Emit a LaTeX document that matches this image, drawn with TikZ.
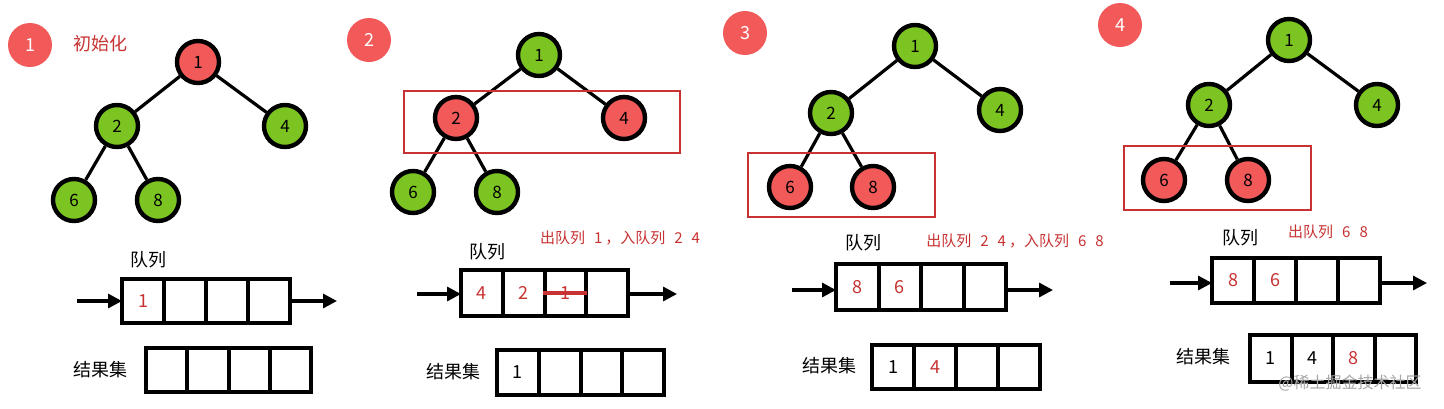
\documentclass[tikz,border=0pt]{standalone}
\usepackage{fontspec}
\setmainfont{Noto Sans CJK SC}
\usetikzlibrary{arrows.meta,calc}
\definecolor{rd}{HTML}{F25A5A}
\definecolor{rt}{HTML}{C83232}
\definecolor{gr}{HTML}{7BC422}
\tikzset{
 tn/.style={circle,draw=black,line width=2.2pt,minimum size=21pt,inner sep=0pt,font=\fontsize{8.5}{10}\selectfont},
 gn/.style={tn,fill=gr},
 rn/.style={tn,fill=rd},
 badge/.style={circle,fill=rd,minimum size=22pt,inner sep=0pt,text=white,font=\fontsize{9}{10}\selectfont},
 edge/.style={line width=1.6pt},
 cell/.style={draw=black,line width=2pt},
 lbl/.style={font=\fontsize{9}{11}\selectfont},
 rlbl/.style={font=\fontsize{7.5}{9}\selectfont,text=rt},
 qarr/.style={line width=1.6pt,-{Triangle[length=7pt,width=7pt]}},
 hl/.style={draw=rt,line width=0.8pt},
 cv/.style={font=\fontsize{9}{10}\selectfont}
}
\newcommand{\cells}[5]{%
 \foreach \i in {0,1,2,3}{%
  \pgfmathsetmacro{\xa}{#2+(#4-#2)*\i/4}\pgfmathsetmacro{\xb}{#2+(#4-#2)*(\i+1)/4}%
  \draw[cell] (\xa,#3) rectangle (\xb,#5);
  \coordinate (#1\i) at ({(\xa+\xb)/2},{(#3+#5)/2});}%
}
\newcommand{\gapsp}{\hspace{0.6em}}
\begin{document}
\begin{tikzpicture}[x=0.5pt,y=-0.5pt]
\useasboundingbox[fill=white] (0,0) rectangle (1444,408);
% Panel 1
\node[badge] (b1) at (30,45) {1};
\node[lbl,text=rt,anchor=west] (t1) at (66,44) {初始化};
\node[rn] (a1) at (198,62) {1};
\node[gn] (a2) at (117,126) {2};
\node[gn] (a4) at (285,126) {4};
\node[gn] (a6) at (74,200) {6};
\node[gn] (a8) at (158,200) {8};
\draw[edge] (a1)--(a2) (a1)--(a4) (a2)--(a6) (a2)--(a8);
\node[lbl] (q1l) at (148,260) {队列};
\cells{qa}{122}{279}{290}{323}
\coordinate (qa_in) at (77,301); \coordinate (qa_out) at (337,301);
\draw[qarr] (qa_in)--(122,301);
\draw[qarr] (290,301)--(qa_out);
\node[cv,text=rt] at (qa0) {1};
\node[lbl] (r1l) at (100,370) {结果集};
\cells{ra}{146}{348}{311}{392}
% Panel 2
\node[badge] (b2) at (369,40) {2};
\node[gn] (c1) at (539,55) {1};
\node[rn] (c2) at (456,118) {2};
\node[rn] (c4) at (624,118) {4};
\node[gn] (c6) at (413,192) {6};
\node[gn] (c8) at (497,192) {8};
\draw[edge] (c1)--(c2) (c1)--(c4) (c2)--(c6) (c2)--(c8);
\draw[hl] (404,91) rectangle (680,153);
\node[rlbl] (t2) at (620,238) {出队列\gapsp 1\hspace{0.2em}，入队列\gapsp 2\gapsp 4};
\node[lbl] (q2l) at (487,252) {队列};
\cells{qb}{461}{270}{628}{316}
\coordinate (qb_in) at (417,294); \coordinate (qb_out) at (677,294);
\draw[qarr] (qb_in)--(461,294);
\draw[qarr] (628,294)--(qb_out);
\node[cv,text=rt] at (qb0) {4};
\node[cv,text=rt] at (qb1) {2};
\node[cv,text=rt] (x1) at (qb2) {1};
\draw[rt,line width=1.8pt] ($(qb2)+(-22,0)$)--($(qb2)+(22,0)$);
\node[lbl] (r2l) at (453,372) {结果集};
\cells{rb}{497}{350}{664}{395}
\node[cv] at (rb0) {1};
% Panel 3
\node[badge] (b3) at (745,33) {3};
\node[gn] (d1) at (915,46) {1};
\node[gn] (d2) at (831,113) {2};
\node[gn] (d4) at (1000,110) {4};
\node[rn] (d6) at (790,187) {6};
\node[rn] (d8) at (873,187) {8};
\draw[edge] (d1)--(d2) (d1)--(d4) (d2)--(d6) (d2)--(d8);
\draw[hl] (748,153) rectangle (935,217);
\node[rlbl] (t3) at (1015,241) {出队列\gapsp 2\gapsp 4\hspace{0.2em}，入队列\gapsp 6\gapsp 8};
\node[lbl] (q3l) at (863,243) {队列};
\cells{qc}{836}{264}{1006}{310}
\coordinate (qc_in) at (792,290); \coordinate (qc_out) at (1053,290);
\draw[qarr] (qc_in)--(836,290);
\draw[qarr] (1006,290)--(qc_out);
\node[cv,text=rt] at (qc0) {8};
\node[cv,text=rt] at (qc1) {6};
\node[lbl] (r3l) at (829,366) {结果集};
\cells{rc}{872}{345}{1040}{389}
\node[cv] at (rc0) {1};
\node[cv,text=rt] at (rc1) {4};
% Panel 4
\node[badge] (b4) at (1120,25) {4};
\node[gn] (e1) at (1289,40) {1};
\node[gn] (e2) at (1209,105) {2};
\node[gn] (e4) at (1377,105) {4};
\node[rn] (e6) at (1164,180) {6};
\node[rn] (e8) at (1248,180) {8};
\draw[edge] (e1)--(e2) (e1)--(e4) (e2)--(e6) (e2)--(e8);
\draw[hl] (1124,146) rectangle (1311,210);
\node[rlbl] (t4) at (1328,232) {出队列\gapsp 6\gapsp 8};
\node[lbl] (q4l) at (1240,238) {队列};
\cells{qd}{1212}{258}{1380}{303}
\coordinate (qd_in) at (1170,283); \coordinate (qd_out) at (1427,283);
\draw[qarr] (qd_in)--(1212,283);
\draw[qarr] (1380,283)--(qd_out);
\node[cv,text=rt] at (qd0) {8};
\node[cv,text=rt] at (qd1) {6};
\node[lbl] (r4l) at (1203,357) {结果集};
\cells{rd}{1250}{335}{1416}{382}
\node[cv] at (rd0) {1};
\node[cv] at (rd1) {4};
\node[cv,text=rt] at (rd2) {8};
\node[font=\fontsize{8}{9}\selectfont,text=gray!70] (wm) at (1350,383) {@稀土掘金技术社区};
\end{tikzpicture}
\end{document}
